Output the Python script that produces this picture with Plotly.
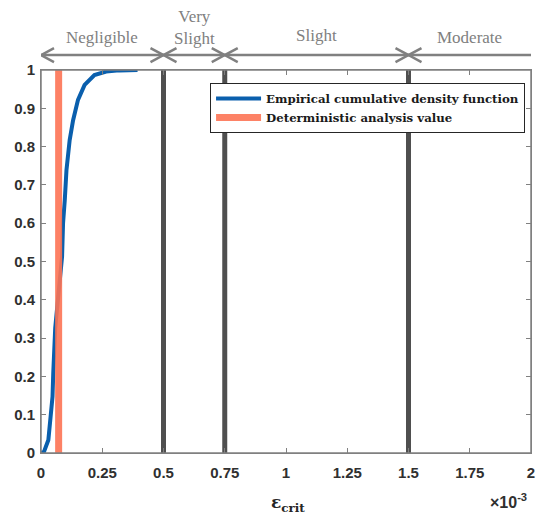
import plotly.graph_objects as go

# Empirical CDF of the critical strain (units of 1e-3)
ecdf_x = [0.0, 0.012, 0.030, 0.039, 0.047, 0.050, 0.055, 0.058, 0.086, 0.090,
          0.097, 0.104, 0.117, 0.131, 0.151, 0.178, 0.218, 0.266, 0.320, 0.394]
ecdf_y = [0.0, 0.003, 0.034, 0.100, 0.147, 0.208, 0.270, 0.326, 0.513, 0.600,
          0.660, 0.739, 0.817, 0.869, 0.922, 0.961, 0.987, 0.996, 0.999, 1.0]

deterministic_value = 0.072

# Damage class limits and names
class_bounds = [0.0, 0.5, 0.75, 1.5, 2.0]
class_labels = ["Negligible", "Very<br>Slight", "Slight", "Moderate"]

x_tick_vals = [0, 0.25, 0.5, 0.75, 1, 1.25, 1.5, 1.75, 2]
x_tick_text = ["0", "0.25", "0.5", "0.75", "1", "1.25", "1.5", "1.75", "2"]

BLUE = "#0a5fad"
ORANGE = "#fd7455"
DARK = "#4f4f4f"
GREY = "#808080"
TICK_FONT = dict(family="Liberation Sans", size=15, color="#303030", weight="bold")
SERIF = "Liberation Serif"

fig = go.Figure()

# class limit lines
for b in class_bounds[1:-1]:
    fig.add_trace(go.Scatter(x=[b, b], y=[0, 1], mode="lines",
                             line=dict(color=DARK, width=5),
                             showlegend=False, hoverinfo="skip"))

fig.add_trace(go.Scatter(x=ecdf_x, y=ecdf_y, mode="lines",
                         line=dict(color=BLUE, width=4),
                         name="Empirical cumulative density function"))

fig.add_trace(go.Scatter(x=[deterministic_value, deterministic_value], y=[0, 1],
                         mode="lines", opacity=0.9,
                         line=dict(color=ORANGE, width=7),
                         name="Deterministic analysis value"))

# axes box
shapes = [dict(type="rect", xref="paper", yref="paper", x0=0, x1=1, y0=0, y1=1,
               line=dict(color=GREY, width=1.5), layer="above")]

# class arrows above the axes
arrow_y = 1.039
for i in range(len(class_bounds) - 1):
    lo, hi = class_bounds[i], class_bounds[i + 1]
    shapes.append(dict(type="line", xref="x", yref="paper",
                       x0=lo, x1=hi, y0=arrow_y, y1=arrow_y,
                       line=dict(color=GREY, width=2.5)))
    heads = [(lo, 1)]
    if i < len(class_bounds) - 2:
        heads.append((hi, -1))
    for xa, d in heads:
        shapes.append(dict(type="path", xref="x", yref="paper",
                           xsizemode="pixel", ysizemode="pixel",
                           xanchor=xa, yanchor=arrow_y,
                           path=f"M{13 * d},-7 L0,0 L{13 * d},7",
                           line=dict(color=GREY, width=2.5)))

annotations = []
label_y = [1.0836, 1.111, 1.089, 1.0836]
for i, lab in enumerate(class_labels):
    mid = (class_bounds[i] + class_bounds[i + 1]) / 2
    annotations.append(dict(x=mid, y=label_y[i], xref="x", yref="paper",
                            text=lab, showarrow=False, yanchor="middle",
                            font=dict(family=SERIF, size=17, color=GREY)))

annotations.append(dict(x=1.01, y=-0.132, xref="x", yref="paper",
                        text="ε<sub>crit</sub>", showarrow=False, yanchor="middle",
                        font=dict(family="DejaVu Serif", size=17, color="#262626",
                                  weight="bold")))
annotations.append(dict(x=0.995, y=-0.125, xref="paper", yref="paper",
                        text="×10<sup>-3</sup>", showarrow=False,
                        xanchor="right", yanchor="middle",
                        font=dict(family="Liberation Sans", size=16, color="#303030",
                                  weight="bold")))

fig.update_layout(
    width=538, height=518,
    margin=dict(l=41, r=3, t=70, b=65),
    plot_bgcolor="white", paper_bgcolor="white",
    shapes=shapes, annotations=annotations,
    legend=dict(x=0.345, y=0.966, xanchor="left", yanchor="top",
                bgcolor="white", bordercolor="#262626", borderwidth=1,
                font=dict(family="DejaVu Serif", size=11.75, color="#1a1a1a",
                          weight="bold"),
                itemwidth=45, tracegroupgap=0),
)

fig.update_xaxes(range=[0, 2], tickvals=x_tick_vals, ticktext=x_tick_text,
                 showgrid=False, zeroline=False, showline=True, linecolor=GREY,
                 linewidth=1, mirror="ticks", ticks="inside", ticklen=5,
                 tickcolor=GREY, tickfont=TICK_FONT, ticklabelstandoff=6,
                 ticklabeloverflow="allow")
fig.update_yaxes(range=[0, 1], dtick=0.1,
                 showgrid=False, zeroline=False, showline=True, linecolor=GREY,
                 linewidth=1, mirror="ticks", ticks="inside", ticklen=5,
                 tickcolor=GREY, tickfont=TICK_FONT, ticklabelstandoff=2)

fig.write_html("out.html")
